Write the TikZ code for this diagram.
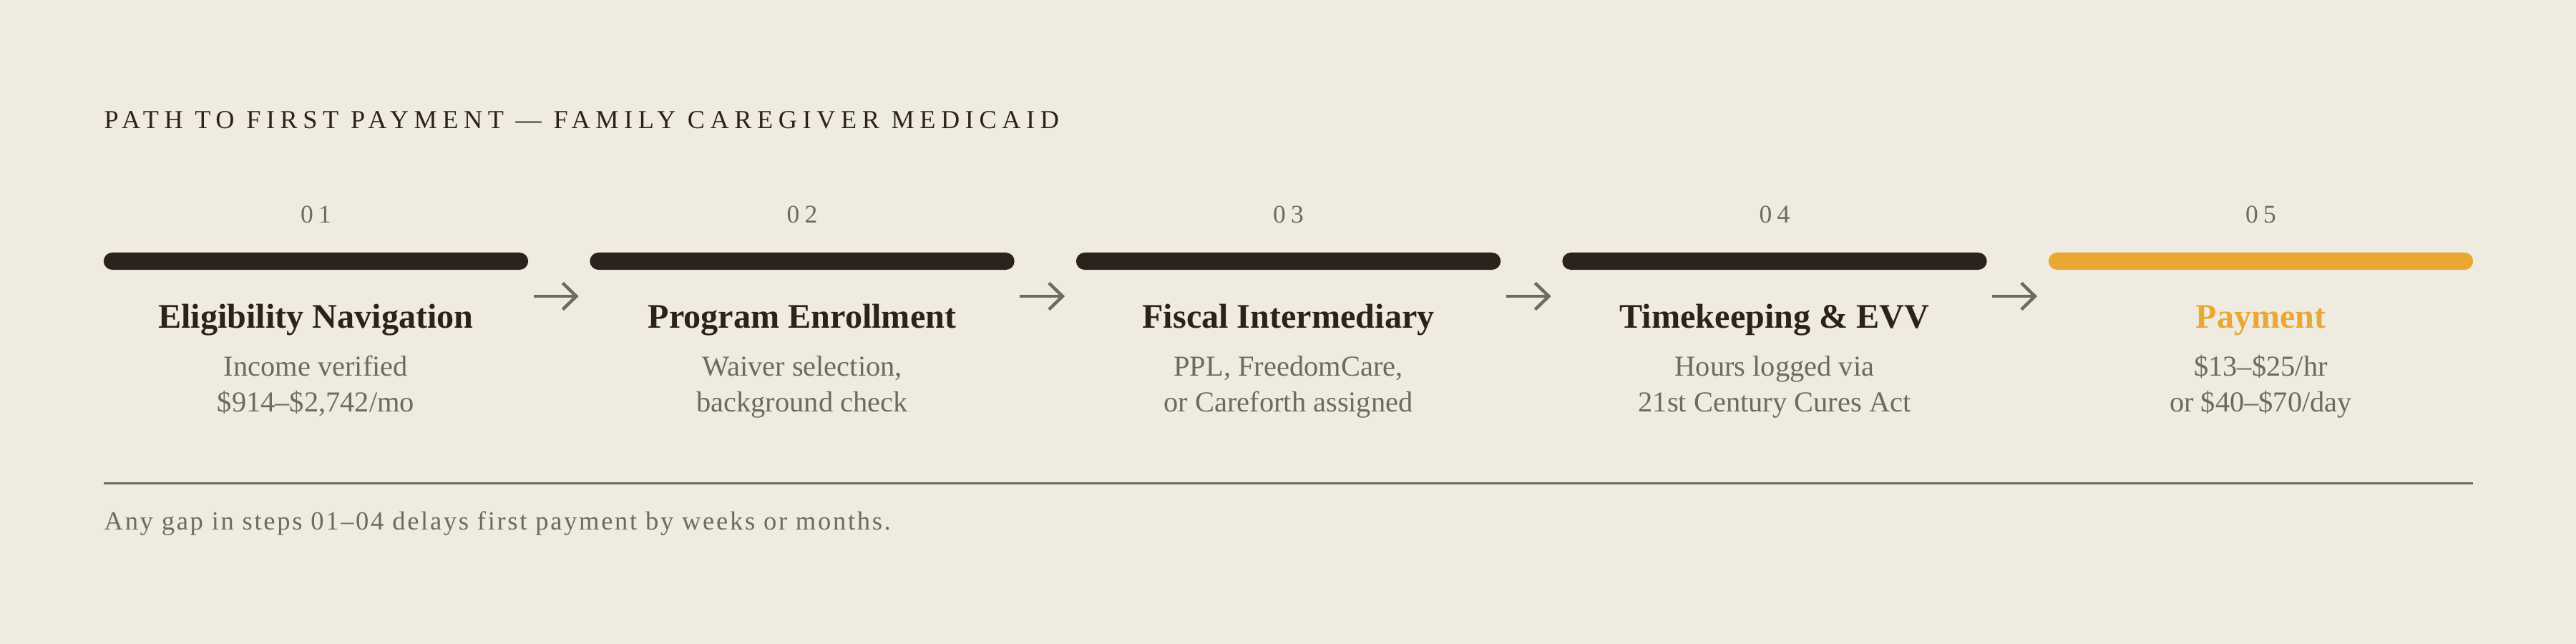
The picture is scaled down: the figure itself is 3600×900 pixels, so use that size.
\documentclass[tikz,border=0pt]{standalone}
\usepackage{fontspec}
\setmainfont{Liberation Serif}
\newfontfamily\headfont[LetterSpace=21]{Liberation Serif}
\newfontfamily\numfont[LetterSpace=20]{Liberation Serif}
\newfontfamily\footfont[LetterSpace=7.3]{Liberation Serif}
\usetikzlibrary{arrows.meta}
\definecolor{bg}{HTML}{F0EBE1}
\definecolor{ink}{HTML}{2B231B}
\definecolor{muted}{HTML}{6E6A5E}
\definecolor{gold}{HTML}{E8A832}
\tikzset{
  barbox/.style={rectangle, rounded corners=0.12cm, minimum width=5.93cm, minimum height=0.24cm, inner sep=0pt, fill=#1},
  numlabel/.style={anchor=base, inner sep=0pt, text=muted, font=\numfont\fontsize{10.1}{12}\selectfont},
  steptitle/.style={anchor=base, inner sep=0pt, text=#1, font=\fontsize{13.7}{16}\selectfont\bfseries},
  stepsub/.style={anchor=base, inner sep=0pt, text=muted, font=\fontsize{11.5}{14}\selectfont},
  flow/.style={draw=muted, line width=0.045cm, -{Straight Barb[length=0.19cm, width=0.37cm]}},
}
\begin{document}
\begin{tikzpicture}[x=0.01cm, y=-0.01cm]
\fill[bg] (0,0) rectangle (3600,900);
\useasboundingbox (0,0) rectangle (3600,900);

% heading
\node[anchor=base west, inner sep=0pt, text=ink, font=\headfont\fontsize{10.3}{12}\selectfont] (head) at (145,179) {PATH TO FIRST PAYMENT — FAMILY CAREGIVER MEDICAID};

% bars
\node[barbox=ink] (bar1) at (441.5,365) {};
\node[barbox=ink] (bar2) at (1121,365) {};
\node[barbox=ink] (bar3) at (1800.5,365) {};
\node[barbox=ink] (bar4) at (2480,365) {};
\node[barbox=gold] (bar5) at (3159.5,365) {};

% numbers
\node[numlabel] (n1) at (441.5,311) {01};
\node[numlabel] (n2) at (1121,311) {02};
\node[numlabel] (n3) at (1800.5,311) {03};
\node[numlabel] (n4) at (2480,311) {04};
\node[numlabel] (n5) at (3159.5,311) {05};

% titles
\node[steptitle=ink] (t1) at (441.5,458) {Eligibility Navigation};
\node[steptitle=ink] (t2) at (1121,458) {Program Enrollment};
\node[steptitle=ink] (t3) at (1800.5,458) {Fiscal Intermediary};
\node[steptitle=ink] (t4) at (2480,458) {Timekeeping \& EVV};
\node[steptitle=gold] (t5) at (3159.5,458) {Payment};

% sub lines
\node[stepsub] (s1a) at (441.5,525) {Income verified};
\node[stepsub] (s1b) at (441.5,575) {\$914–\$2,742/mo};
\node[stepsub] (s2a) at (1121,525) {Waiver selection,};
\node[stepsub] (s2b) at (1121,575) {background check};
\node[stepsub] (s3a) at (1800.5,525) {PPL, FreedomCare,};
\node[stepsub] (s3b) at (1800.5,575) {or Careforth assigned};
\node[stepsub] (s4a) at (2480,525) {Hours logged via};
\node[stepsub] (s4b) at (2480,575) {21st Century Cures Act};
\node[stepsub] (s5a) at (3159.5,525) {\$13–\$25/hr};
\node[stepsub] (s5b) at (3159.5,575) {or \$40–\$70/day};

% arrows between steps
\draw[flow] ([xshift=0.07cm, yshift=-0.49cm]bar1.east) -- ([xshift=-0.15cm, yshift=-0.49cm]bar2.west);
\draw[flow] ([xshift=0.07cm, yshift=-0.49cm]bar2.east) -- ([xshift=-0.15cm, yshift=-0.49cm]bar3.west);
\draw[flow] ([xshift=0.07cm, yshift=-0.49cm]bar3.east) -- ([xshift=-0.15cm, yshift=-0.49cm]bar4.west);
\draw[flow] ([xshift=0.07cm, yshift=-0.49cm]bar4.east) -- ([xshift=-0.15cm, yshift=-0.49cm]bar5.west);

% footer rule and note
\coordinate (ruleL) at (145,675);
\coordinate (ruleR) at (3456,675);
\draw[muted, line width=0.03cm] (ruleL) -- (ruleR);
\node[anchor=base west, inner sep=0pt, text=muted, font=\footfont\fontsize{10.4}{12}\selectfont] (foot) at (145,740) {Any gap in steps 01–04 delays first payment by weeks or months.};
\end{tikzpicture}
\end{document}
